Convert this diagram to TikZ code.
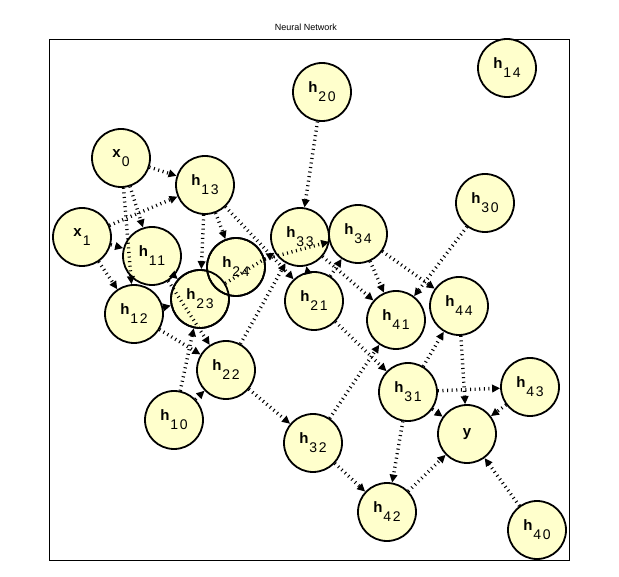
\documentclass[tikz,border=0pt]{standalone}
\usepackage{fontspec}
\setmainfont{Liberation Sans}
\usetikzlibrary{arrows.meta}
\usetikzlibrary{positioning}

\definecolor{unitfill}{RGB}{255,255,204}

\newcommand{\unitlabel}[2]{\textbf{#1}\kern1pt\raisebox{-9pt}{\fontsize{14}{14}\selectfont\addfontfeature{LetterSpace=12}#2}}

\begin{document}
\begin{tikzpicture}[
  x=1pt, y=-1pt,
  unit/.style={circle, draw, line width=1.8pt, fill=unitfill,
    minimum size=58pt, inner sep=0pt, font=\fontsize{15}{15}\selectfont},
  link/.style={line width=3.4pt, dash pattern=on 1pt off 3.6pt,
    -{Triangle[length=8pt,width=7.5pt]}},
  ]

  \useasboundingbox (0,0) rectangle (619,577);

  % Title and frame
  \node (title) at (306,27) {\fontsize{9}{9}\selectfont Neural Network};
  \draw[line width=0.8pt] (49,39) rectangle (569,560);

  % Input units
  \node[unit] (x0) at (121,158) {\unitlabel{x}{0}};
  \node[unit] (x1) at (82,237)  {\unitlabel{x}{1}};

  % Hidden units
  \node[unit] (h13) at (205,185) {\unitlabel{h}{13}};
  \node[unit] (h11) at (152,256) {\unitlabel{h}{11}};
  \node[unit] (h12) at (134,314) {\unitlabel{h}{12}};
  \node[unit] (h23) at (200,299) {\unitlabel{h}{23}};
  \node[unit] (h24) at (236,267) {\unitlabel{h}{24}};
  \node[unit] (h33) at (300,237) {\unitlabel{h}{33}};
  \node[unit] (h34) at (358,234) {\unitlabel{h}{34}};
  \node[unit] (h21) at (314,301) {\unitlabel{h}{21}};
  \node[unit] (h41) at (396,320) {\unitlabel{h}{41}};
  \node[unit] (h44) at (459,306) {\unitlabel{h}{44}};
  \node[unit] (h30) at (485,203) {\unitlabel{h}{30}};
  \node[unit] (h20) at (322,92)  {\unitlabel{h}{20}};
  \node[unit] (h14) at (507,68)  {\unitlabel{h}{14}};
  \node[unit] (h22) at (226,370) {\unitlabel{h}{22}};
  \node[unit] (h10) at (174,420) {\unitlabel{h}{10}};
  \node[unit] (h32) at (313,443) {\unitlabel{h}{32}};
  \node[unit] (h31) at (408,392) {\unitlabel{h}{31}};
  \node[unit] (h43) at (530,387) {\unitlabel{h}{43}};
  \node[unit] (h42) at (387,512) {\unitlabel{h}{42}};
  \node[unit] (h40) at (537,530) {\unitlabel{h}{40}};

  % Output unit
  \node[unit] (y) at (467,434) {\textbf{y}};

  % Overlapping outlines
  \draw[line width=1.8pt] (h23.center) circle (29);
  \draw[line width=1.8pt] (h24.center) circle (29);

  % Connections
  \draw[link] (x0) -- (h13);
  \draw[link] (x1) -- (h13);
  \draw[link] (x0) -- (h11);
  \draw[link] (x1) -- (h11);
  \draw[link] (x0) -- (h12);
  \draw[link] (x1) -- (h12);
  \draw[link] (h13) -- (h23);
  \draw[link] (h11) -- (h23);
  \draw[link] (h12) -- (h23);
  \draw[link] (h10) -- (h23);
  \draw[link] (h13) -- (h24);
  \draw[link] (h13) -- (h21);
  \draw[link] (h23) -- (h33);
  \draw[link] (h22) -- (h33);
  \draw[link] (h21) -- (h33);
  \draw[link] (h20) -- (h33);
  \draw[link] (h11) -- (h22);
  \draw[link] (h12) -- (h22);
  \draw[link] (h10) -- (h22);
  \draw[link] (h24) -- (h34);
  \draw[link] (h21) -- (h34);
  \draw[link] (h33) -- (h41);
  \draw[link] (h34) -- (h41);
  \draw[link] (h30) -- (h41);
  \draw[link] (h32) -- (h41);
  \draw[link] (h34) -- (h44);
  \draw[link] (h31) -- (h44);
  \draw[link] (h21) -- (h31);
  \draw[link] (h31) -- (h43);
  \draw[link] (h31) -- (y);
  \draw[link] (h44) -- (y);
  \draw[link] (h43) -- (y);
  \draw[link] (h40) -- (y);
  \draw[link] (h42) -- (y);
  \draw[link] (h31) -- (h42);
  \draw[link] (h32) -- (h42);
  \draw[link] (h22) -- (h32);

\end{tikzpicture}
\end{document}
